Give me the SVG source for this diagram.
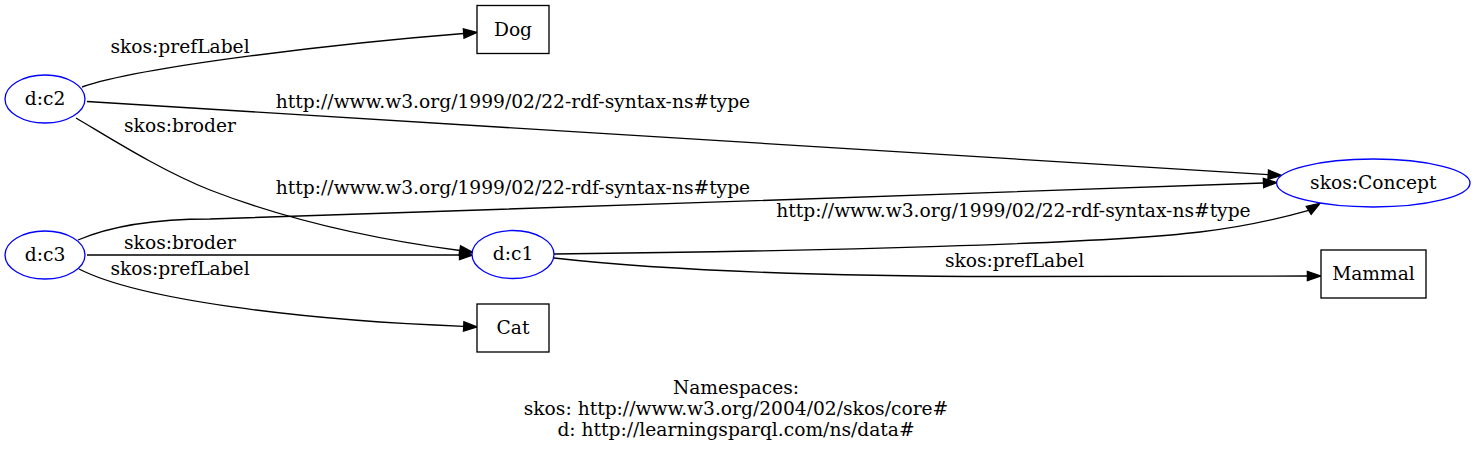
<svg xmlns="http://www.w3.org/2000/svg" width="1475" height="451" viewBox="0 0 1475 451">
<style>
text{font-family:"DejaVu Serif","Liberation Serif",serif;font-size:18.67px;fill:#000;text-anchor:middle}
.res{fill:#fff;stroke:#0000ff;stroke-width:1.33}
.lit{fill:#fff;stroke:#000;stroke-width:1.33}
.edge{fill:none;stroke:#000;stroke-width:1.33}
.head{fill:#000;stroke:#000;stroke-width:1.33}
</style>
<rect width="1475" height="451" fill="#fff"/>
<g id="connectors">
  <g id="e-c2-dog"><path class="edge" d="M82,87 C142,66 344,43 463.7,33.5"/><polygon class="head" points="464.05,38.16 477,32.5 463.35,28.84"/><text x="180" y="53">skos:prefLabel</text></g>
  <g id="e-c2-concept"><path class="edge" d="M87,101.5 L1268.2,174.7"/><polygon class="head" points="1267.9,179.4 1281.5,175.5 1268.5,170"/><text x="513" y="108">http://www.w3.org/1999/02/22-rdf-syntax-ns#type</text></g>
  <g id="e-c2-c1"><path class="edge" d="M76,118 C110,138 160,170 210,190 C290,221 380,240 459.85,250.5"/><polygon class="head" points="459.16,255.12 473,252.5 460.54,245.88"/><text x="180" y="132">skos:broder</text></g>
  <g id="e-c3-concept"><path class="edge" d="M78,240 C120,222 170,219 210,219 C500,210 1000,192 1263.5,183"/><polygon class="head" points="1263.69,187.67 1276.8,182.5 1263.31,178.33"/><text x="513" y="193.5">http://www.w3.org/1999/02/22-rdf-syntax-ns#type</text></g>
  <g id="e-c3-c1"><path class="edge" d="M87,255 L459.5,255"/><polygon class="head" points="459.5,259.67 472.8,255 459.5,250.33"/><text x="180" y="249">skos:broder</text></g>
  <g id="e-c3-cat"><path class="edge" d="M79,269 C140,300 300,320 463.7,326.4"/><polygon class="head" points="463.49,331.07 477,327 463.91,321.73"/><text x="180" y="275">skos:prefLabel</text></g>
  <g id="e-c1-concept"><path class="edge" d="M554,254 C820,251 1100,244 1200,232 C1250,226 1285,217 1308.7,210.3"/><polygon class="head" points="1311.16,214.27 1320,203.3 1306.24,206.33"/><text x="1013.5" y="217">http://www.w3.org/1999/02/22-rdf-syntax-ns#type</text></g>
  <g id="e-c1-mammal"><path class="edge" d="M554,258 C660,270 800,276 1000,276.5 C1150,277 1250,276.5 1307.4,276"/><polygon class="head" points="1307.4,280.67 1320.7,276 1307.4,271.33"/><text x="1014.5" y="267">skos:prefLabel</text></g>
</g>
<g id="n-c2"><ellipse class="res" cx="45" cy="99" rx="40" ry="24"/><text x="45" y="104.5">d:c2</text></g>
<g id="n-c3"><ellipse class="res" cx="45" cy="255" rx="40" ry="24"/><text x="45" y="260.5">d:c3</text></g>
<g id="n-c1"><ellipse class="res" cx="513" cy="254.5" rx="41" ry="24"/><text x="513" y="260">d:c1</text></g>
<g id="n-dog"><rect class="lit" x="477" y="5.5" width="72" height="48"/><text x="513" y="35.5">Dog</text></g>
<g id="n-cat"><rect class="lit" x="477" y="304" width="72" height="48"/><text x="513" y="334">Cat</text></g>
<g id="n-concept"><ellipse class="res" cx="1373.3" cy="183" rx="96.7" ry="24"/><text x="1373.3" y="188.5">skos:Concept</text></g>
<g id="n-mammal"><rect class="lit" x="1321" y="250" width="105" height="48"/><text x="1373.5" y="279.5">Mammal</text></g>
<g id="legend">
  <text x="736" y="394">Namespaces:</text>
  <text x="736" y="415">skos: http://www.w3.org/2004/02/skos/core#</text>
  <text x="736" y="436">d: http://learningsparql.com/ns/data#</text>
</g>
</svg>
